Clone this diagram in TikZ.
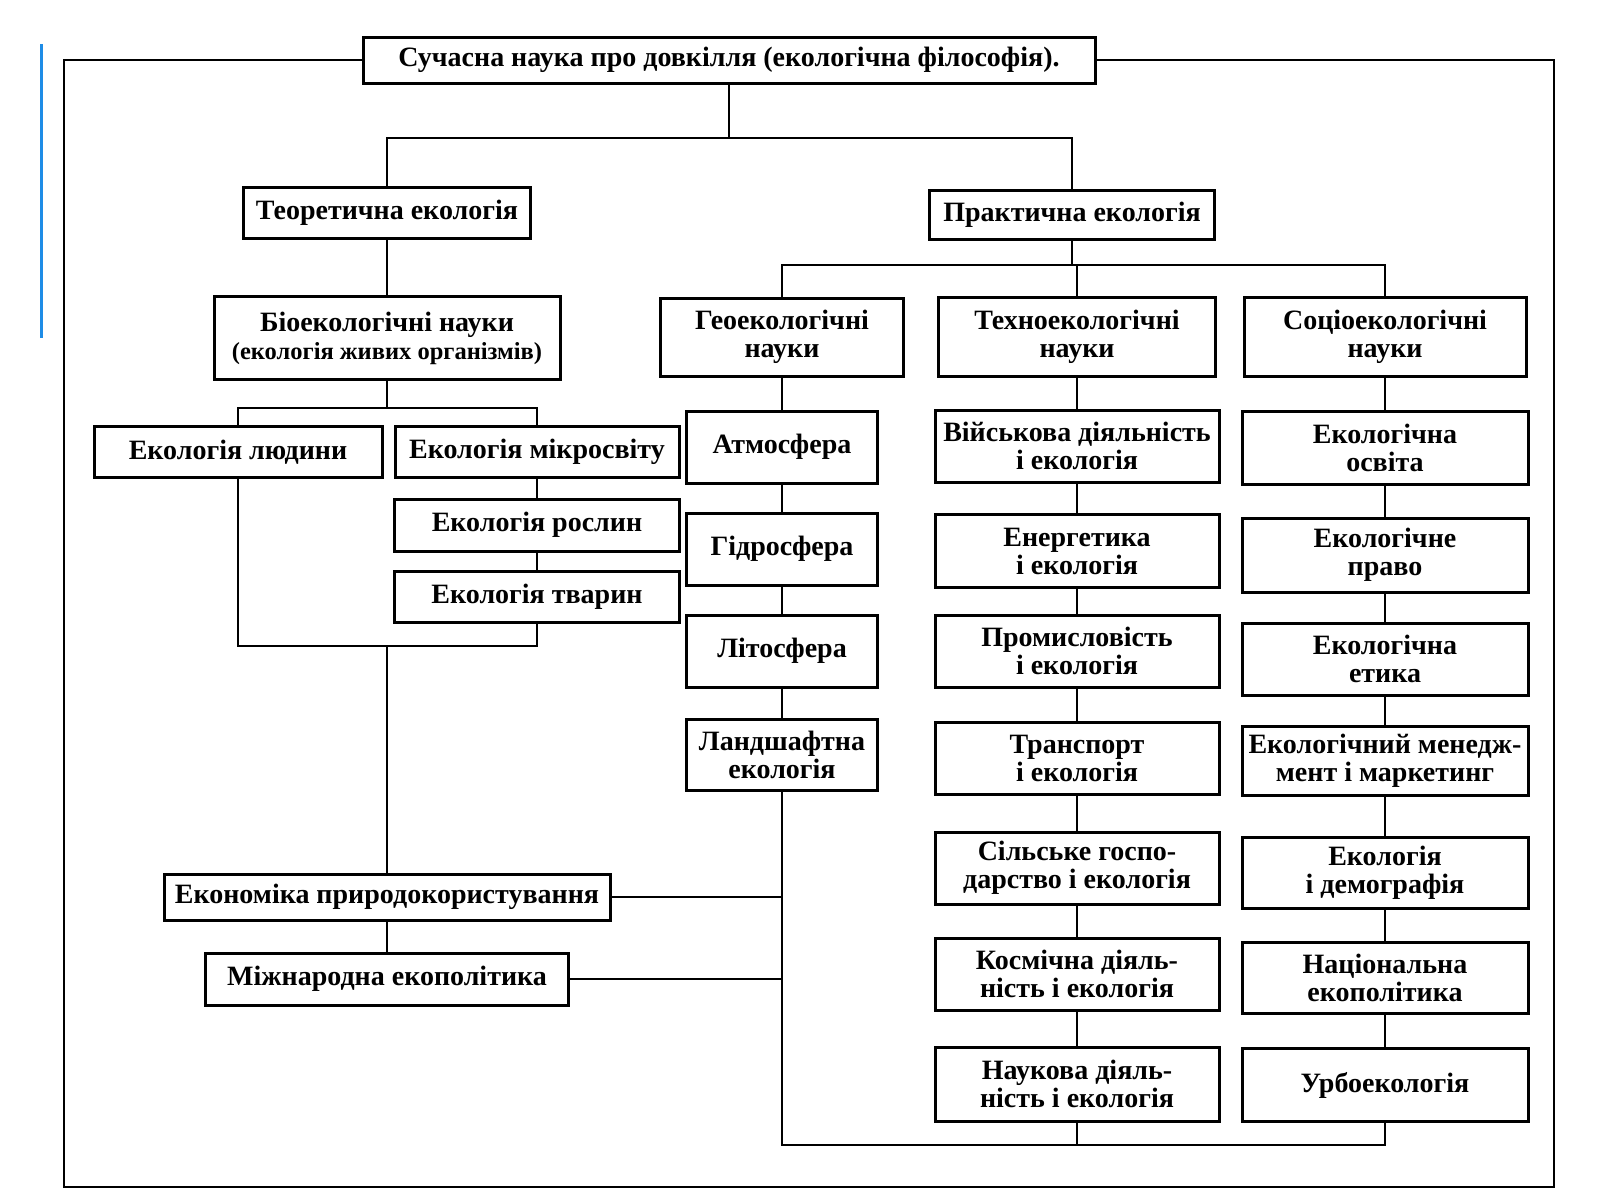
\documentclass[tikz,border=0pt]{standalone}
\usepackage{fontspec}
\setmainfont{Liberation Serif}
\definecolor{blueline}{RGB}{30,140,230}
\begin{document}
\begin{tikzpicture}[x=1pt,y=-1pt,
  box/.style={draw, line width=3pt, inner sep=0pt, align=center,
    font=\fontsize{28}{28}\selectfont\bfseries},
  conn/.style={line width=2.5pt}]
\useasboundingbox (0,0) rectangle (1600,1200);
\fill[white] (0,0) rectangle (1600,1200);
\draw[blueline, line width=3pt] (41,44) -- (41,338);
% top
\node[box, minimum width=732, minimum height=46] (top) at (729,60) {Сучасна наука про довкілля (екологічна філософія).};
\node[box, minimum width=287, minimum height=51] (teor) at (387,213) {Теоретична екологія};
\node[box, minimum width=285, minimum height=49] (prak) at (1072,215) {Практична екологія};
\node[box, minimum width=346, minimum height=83] (bio) at (387,338) {Біоекологічні науки\\{\fontsize{24.5}{27}\selectfont (екологія живих організмів)}};
\node[box, minimum width=243, minimum height=78] (geo) at (782,337) {Геоекологічні\\науки};
\node[box, minimum width=277, minimum height=79] (tech) at (1077,337) {Техноекологічні\\науки};
\node[box, minimum width=282, minimum height=79] (soc) at (1385,337) {Соціоекологічні\\науки};
% bio subtree
\node[box, minimum width=288, minimum height=51] (lud) at (238,452) {Екологія людини};
\node[box, minimum width=284, minimum height=51] (mik) at (537,452) {Екологія мікросвіту};
\node[box, minimum width=285, minimum height=52] (ros) at (537,525) {Екологія рослин};
\node[box, minimum width=285, minimum height=51] (tva) at (537,597) {Екологія тварин};
% geo column
\node[box, minimum width=191, minimum height=72] (atm) at (782,447) {Атмосфера};
\node[box, minimum width=191, minimum height=72] (hyd) at (782,549) {Гідросфера};
\node[box, minimum width=191, minimum height=72] (lit) at (782,651) {Літосфера};
\node[box, minimum width=191, minimum height=71] (land) at (782,755) {Ландшафтна\\екологія};
% economy
\node[box, minimum width=446, minimum height=46] (eco) at (387,897) {Економіка природокористування};
\node[box, minimum width=363, minimum height=52] (mizh) at (387,979) {Міжнародна екополітика};
% tech column
\node[box, minimum width=284, minimum height=72] (t1) at (1077,446) {Військова діяльність\\і екологія};
\node[box, minimum width=284, minimum height=73] (t2) at (1077,551) {Енергетика\\і екологія};
\node[box, minimum width=284, minimum height=72] (t3) at (1077,651) {Промисловість\\і екологія};
\node[box, minimum width=284, minimum height=72] (t4) at (1077,758) {Транспорт\\і екологія};
\node[box, minimum width=284, minimum height=72] (t5) at (1077,868) {Сільське госпо-\\дарство і екологія};
\node[box, minimum width=284, minimum height=72] (t6) at (1077,974) {Космічна діяль-\\ність і екологія};
\node[box, minimum width=284, minimum height=74] (t7) at (1077,1084) {Наукова діяль-\\ність і екологія};
% socio column
\node[box, minimum width=286, minimum height=73] (s1) at (1385,448) {Екологічна\\освіта};
\node[box, minimum width=286, minimum height=74] (s2) at (1385,555) {Екологічне\\право};
\node[box, minimum width=286, minimum height=72] (s3) at (1385,659) {Екологічна\\етика};
\node[box, minimum width=286, minimum height=69] (s4) at (1385,761) {Екологічний менедж-\\мент і маркетинг};
\node[box, minimum width=286, minimum height=71] (s5) at (1385,873) {Екологія\\і демографія};
\node[box, minimum width=286, minimum height=71] (s6) at (1385,978) {Національна\\екополітика};
\node[box, minimum width=286, minimum height=73] (s7) at (1385,1085) {Урбоекологія};
% coordinates
\coordinate (j1) at (729,138);
\coordinate (pj) at (1077,265);
\coordinate (bj) at (387,408);
\coordinate (bb) at (387,646);
\coordinate (gb) at (782,1145);
\coordinate (fbl) at (64,1187);
\coordinate (ftr) at (1554,60);
% frame
\draw[conn] (top.west) -| (fbl) -| (ftr) -- (top.east);
% top level
\draw[conn] (top.south) -- (j1);
\draw[conn] (teor.north) |- (j1) -| (prak.north);
\draw[conn] (teor.south) -- (bio.north);
% practical
\draw[conn] (prak.south) -- (prak.south |- pj);
\draw[conn] (geo.north) |- (pj) -| (s1.north |- soc.north);
\draw[conn] (pj) -- (tech.north);
% bio subtree
\draw[conn] (bio.south) -- (bj);
\draw[conn] (lud.north) |- (bj) -| (mik.north);
\draw[conn] (mik.south) -- (ros.north);
\draw[conn] (ros.south) -- (tva.north);
\draw[conn] (lud.south) |- (bb);
\draw[conn] (tva.south) |- (bb);
\draw[conn] (bb) -- (eco.north);
\draw[conn] (eco.south) -- (mizh.north);
% geo column
\draw[conn] (geo.south) -- (atm.north);
\draw[conn] (atm.south) -- (hyd.north);
\draw[conn] (hyd.south) -- (lit.north);
\draw[conn] (lit.south) -- (land.north);
\draw[conn] (land.south) -- (gb) -| (s7.south);
\draw[conn] (eco.east) -- (eco.east -| gb);
\draw[conn] (mizh.east) -- (mizh.east -| gb);
% tech column
\draw[conn] (tech.south) -- (t1.north);
\draw[conn] (t1.south) -- (t2.north);
\draw[conn] (t2.south) -- (t3.north);
\draw[conn] (t3.south) -- (t4.north);
\draw[conn] (t4.south) -- (t5.north);
\draw[conn] (t5.south) -- (t6.north);
\draw[conn] (t6.south) -- (t7.north);
\draw[conn] (t7.south) -- (t7.south |- gb);
% socio column
\draw[conn] (soc.south) -- (s1.north);
\draw[conn] (s1.south) -- (s2.north);
\draw[conn] (s2.south) -- (s3.north);
\draw[conn] (s3.south) -- (s4.north);
\draw[conn] (s4.south) -- (s5.north);
\draw[conn] (s5.south) -- (s6.north);
\draw[conn] (s6.south) -- (s7.north);
\end{tikzpicture}
\end{document}
